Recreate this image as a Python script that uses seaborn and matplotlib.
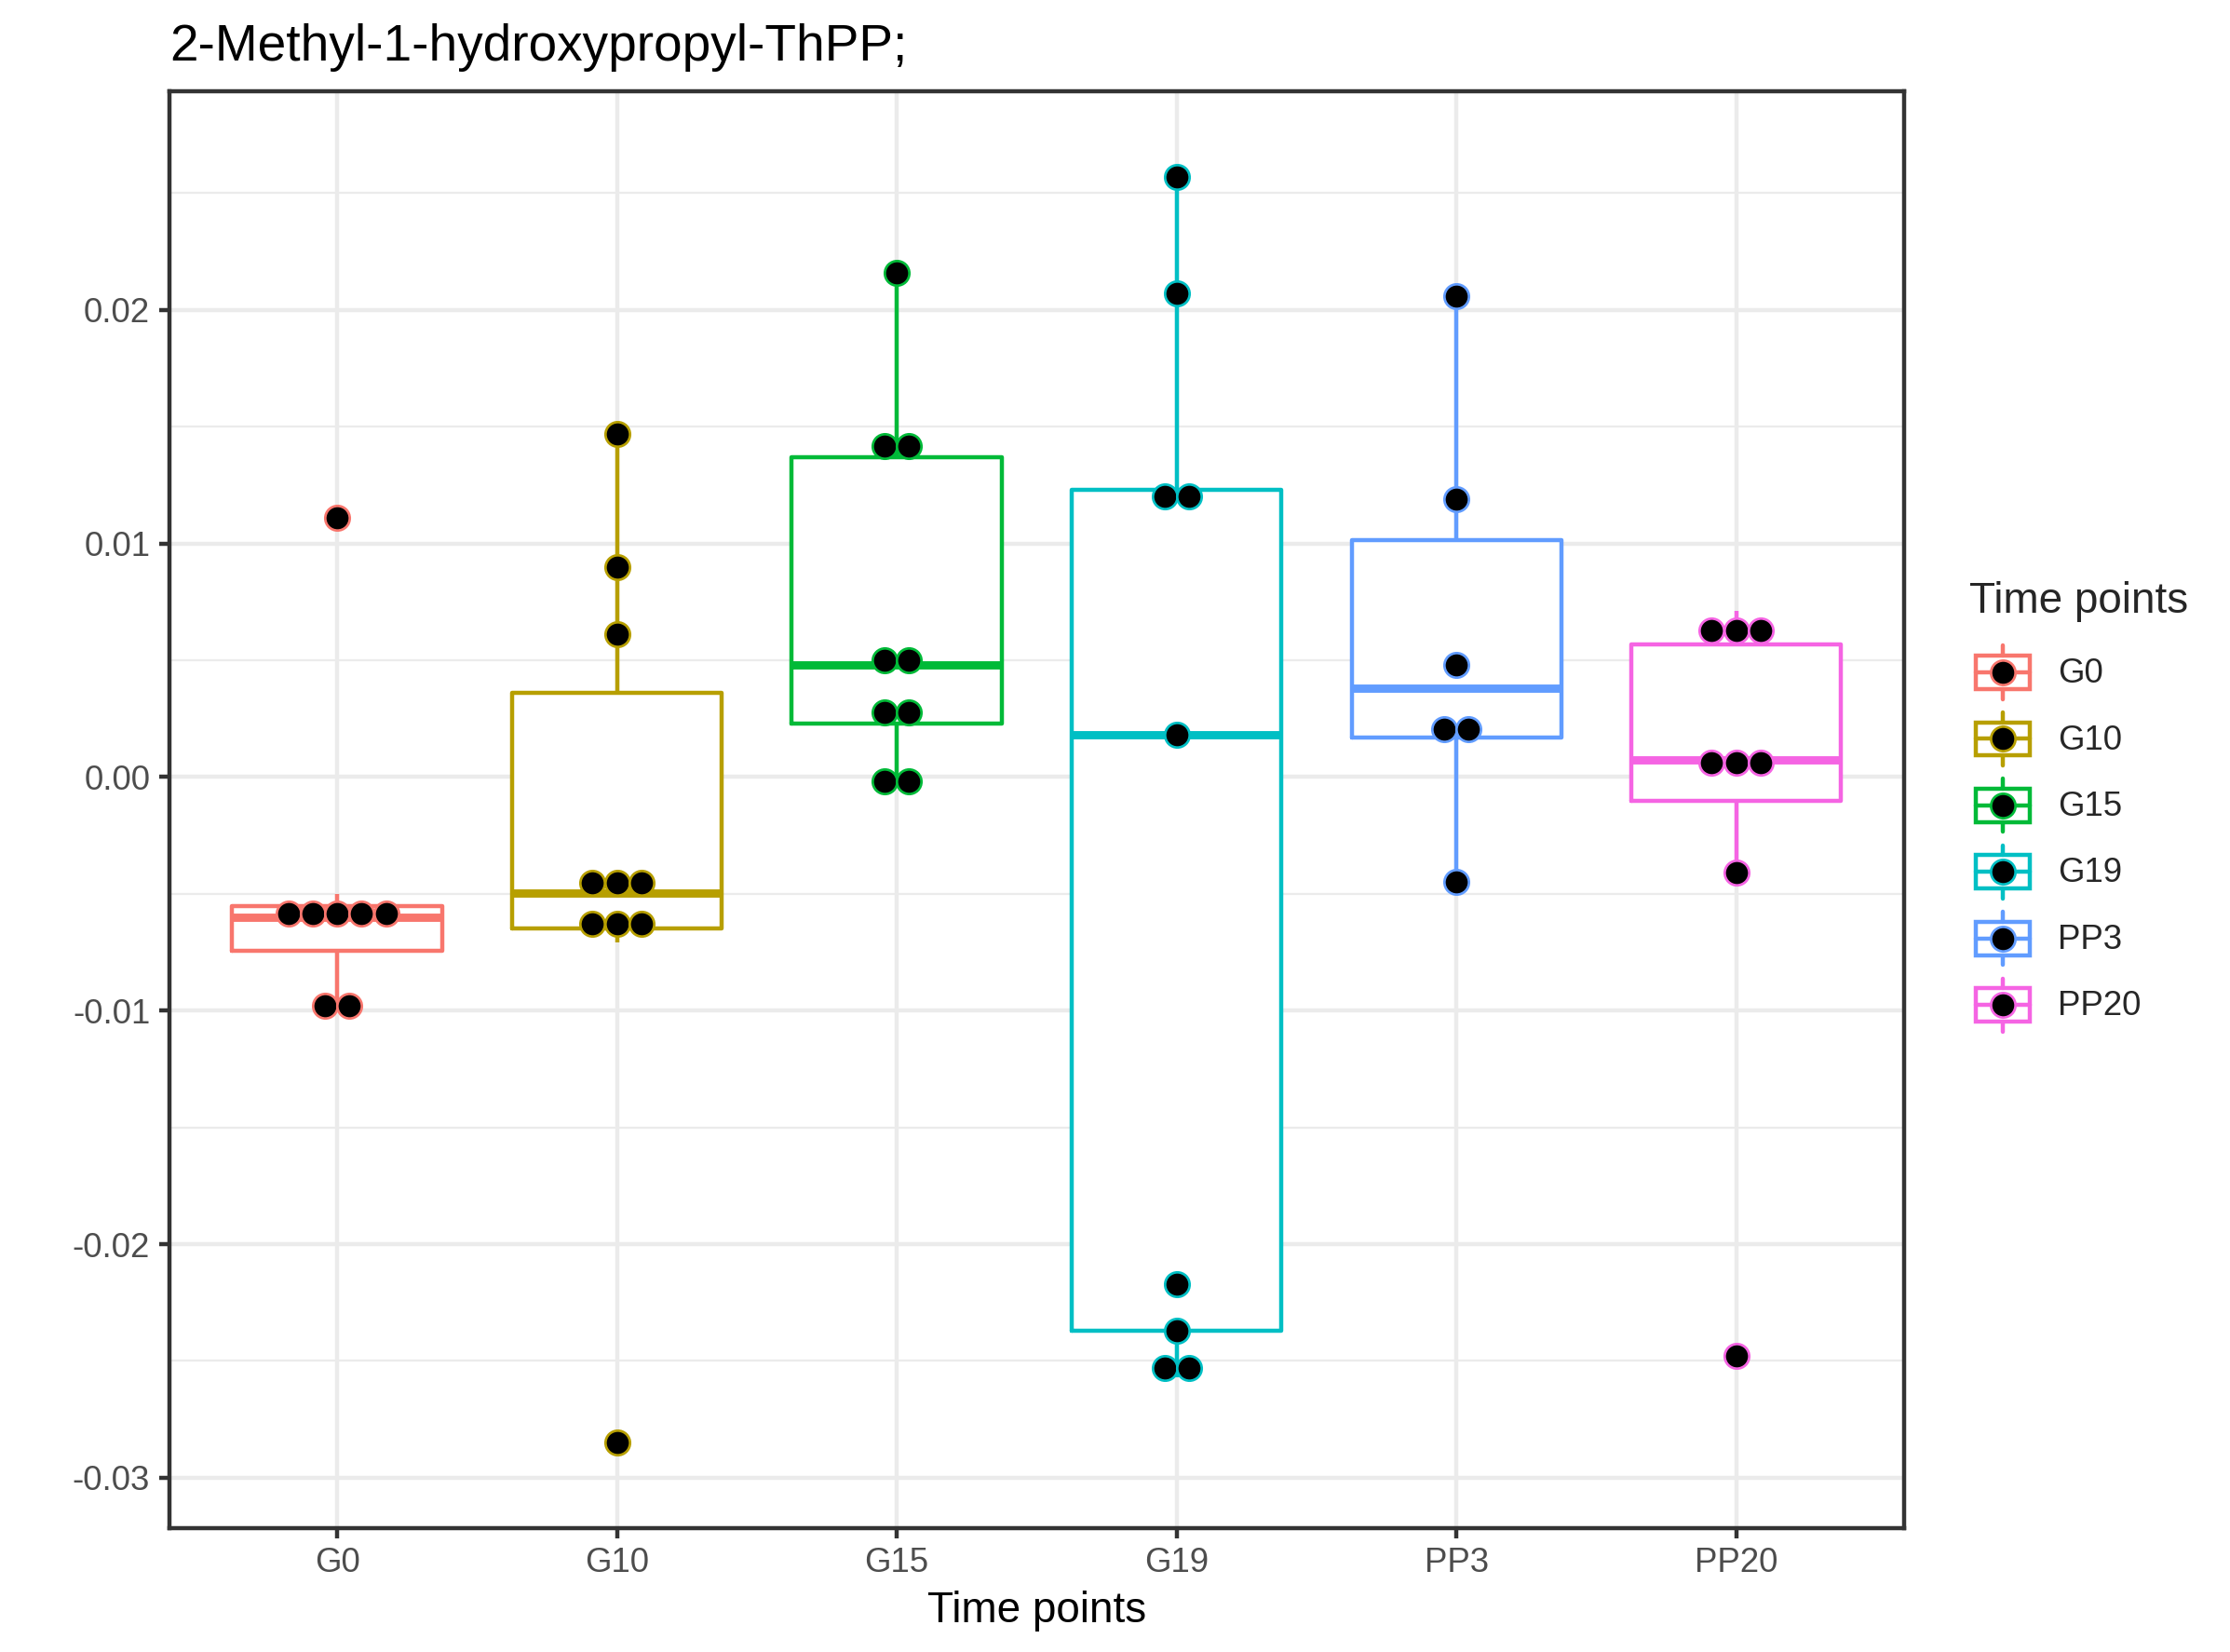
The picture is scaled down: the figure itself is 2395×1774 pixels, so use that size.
import numpy as np
import pandas as pd
import matplotlib
matplotlib.use("Agg")
import matplotlib.pyplot as plt
import seaborn as sns
from matplotlib.patches import Rectangle
from matplotlib.lines import Line2D
from matplotlib.legend_handler import HandlerBase

# Data
groups = ["G0", "G10", "G15", "G19", "PP3", "PP20"]
g0_vals = [-0.0099, -0.0097, -0.0067, -0.0062, -0.0058, -0.0057, -0.0050, 0.0111]
g10_vals = [-0.0285, -0.0071, -0.0068, -0.0055, -0.0052, -0.0047, -0.0039, 0.0061, 0.0090, 0.0147]
g15_vals = [-0.0003, -0.0001, 0.0023, 0.0032, 0.0048, 0.0052, 0.0137, 0.0146, 0.0216]
g19_vals = [-0.0257, -0.0249, -0.0237, -0.0217, 0.0018, 0.0117, 0.0123, 0.0207, 0.0257]
pp3_vals = [-0.0045, 0.0013, 0.0028, 0.0048, 0.0119, 0.0206]
pp20_vals = [-0.0248, -0.0041, 0.0000, 0.0003, 0.0012, 0.00545, 0.0063, 0.0071]
values = [g0_vals, g10_vals, g15_vals, g19_vals, pp3_vals, pp20_vals]

colors = ["#F8766D", "#B79F00", "#00BA38", "#00BFC4", "#619CFF", "#F564E3"]
yticks = [-0.03, -0.02, -0.01, 0.00, 0.01, 0.02]
ytick_labels = ["-0.03", "-0.02", "-0.01", "0.00", "0.01", "0.02"]
minor_yticks = [-0.025, -0.015, -0.005, 0.005, 0.015, 0.025]

title = "2-Methyl-1-hydroxypropyl-ThPP;"
x_title = "Time points"
legend_title = "Time points"

sns.set_theme(style="white")
plt.rcParams["font.family"] = ["Liberation Sans", "DejaVu Sans"]
plt.rcParams["axes.unicode_minus"] = False

LW = 1.07  # ggplot 0.5 mm line


def dot_bins(vals, binwidth):
    """ggplot-style dotdensity binning: returns (center, count) per bin."""
    bins = []
    start = None
    for v in sorted(vals):
        if start is None or v >= start + binwidth:
            bins.append([v])
            start = v
        else:
            bins[-1].append(v)
    return [((b[0] + b[-1]) / 2, len(b)) for b in bins]


class BoxKeyHandler(HandlerBase):
    def create_artists(self, legend, orig_handle, xdescent, ydescent,
                       width, height, fontsize, trans):
        c = orig_handle.get_color()
        x0, y0 = -xdescent, -ydescent
        xm = x0 + width / 2
        box = Rectangle((x0 + 0.1 * width, y0 + 0.25 * height), 0.8 * width, 0.5 * height,
                        facecolor="white", edgecolor=c, linewidth=LW, transform=trans)
        wl = Line2D([xm, xm], [y0 + 0.1 * height, y0 + 0.25 * height], color=c, lw=LW, transform=trans)
        wu = Line2D([xm, xm], [y0 + 0.75 * height, y0 + 0.9 * height], color=c, lw=LW, transform=trans)
        med = Line2D([x0 + 0.1 * width, x0 + 0.9 * width], [y0 + 0.5 * height] * 2,
                     color=c, lw=LW, transform=trans)
        dot = Line2D([xm], [y0 + 0.5 * height], marker="o", markersize=6.3, linestyle="none",
                     markerfacecolor="black", markeredgecolor=c, markeredgewidth=0.65,
                     transform=trans)
        return [box, wl, wu, med, dot]


df = pd.DataFrame({
    "group": np.repeat(groups, [len(v) for v in values]),
    "value": np.concatenate(values),
})
palette = dict(zip(groups, colors))

fig = plt.figure(figsize=(2395 / 300, 1774 / 300), dpi=300)
ax = fig.add_axes([0.0759, 0.0751, 0.8539 - 0.0759, 0.9448 - 0.0751])

# white box interiors (hide grid behind boxes)
sns.boxplot(data=df, x="group", y="value", order=groups, color="white", fill=True,
            linewidth=0, width=0.75, showfliers=False, showcaps=False, ax=ax, zorder=1.5)
# coloured outlines
sns.boxplot(data=df, x="group", y="value", hue="group", order=groups, hue_order=groups,
            palette=palette, fill=False, dodge=False, width=0.75, linewidth=LW,
            showfliers=False, showcaps=False, medianprops={"linewidth": 2.13},
            legend=False, ax=ax, zorder=3)

# dot plot layer, stacked horizontally within each y bin
binwidth = (df["value"].max() - df["value"].min()) / 30
dot_step = 0.0875
for i, (g, vals) in enumerate(zip(groups, values)):
    xs, ys = [], []
    for center, n in dot_bins(vals, binwidth):
        for k in range(n):
            xs.append(i + (k - (n - 1) / 2) * dot_step)
            ys.append(center)
    sns.scatterplot(x=xs, y=ys, color="black", edgecolor=palette[g], s=40,
                    linewidth=0.65, zorder=4, ax=ax, legend=False)

# axes styling (theme_bw look)
ax.set_xlim(-0.6, 5.6)
ax.set_ylim(-0.03215, 0.02936)
ax.set_xticks(range(len(groups)))
ax.set_xticklabels(groups)
ax.set_yticks(yticks)
ax.set_yticklabels(ytick_labels)
ax.set_yticks(minor_yticks, minor=True)
ax.set_axisbelow(True)
ax.grid(True, which="major", color="#EBEBEB", linewidth=LW)
ax.grid(True, which="minor", axis="y", color="#EBEBEB", linewidth=0.53)
ax.tick_params(which="minor", length=0)
ax.tick_params(which="major", length=2.75, width=LW, color="#333333",
               labelsize=8.8, labelcolor="#4D4D4D", pad=2.2,
               bottom=True, left=True)
for sp in ax.spines.values():
    sp.set_color("#333333")
    sp.set_linewidth(LW)
ax.set_xlabel(x_title, fontsize=11, color="black", labelpad=2.75)
ax.set_ylabel("")
ax.set_title(title, loc="left", fontsize=13.2, color="black", pad=8)

handles = [Line2D([], [], color=c) for c in colors]
leg = fig.legend(handles, groups, handler_map={Line2D: BoxKeyHandler()},
                 loc="center left", bbox_to_anchor=(0.8831, 0.51), frameon=False,
                 title=legend_title, title_fontsize=11, fontsize=8.8,
                 handlelength=1.963, handleheight=2.62, handletextpad=0.625,
                 labelspacing=0, borderpad=0, borderaxespad=0, alignment="left")
leg._legend_box.sep = 4.5

fig.savefig("out.png", dpi=300)
